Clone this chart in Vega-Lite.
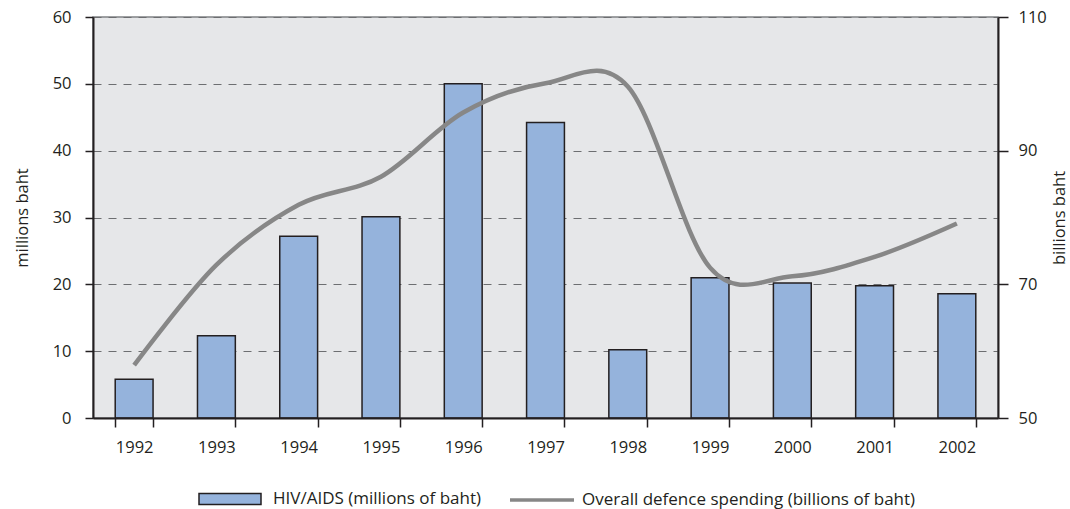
{
  "$schema": "https://vega.github.io/schema/vega-lite/v6.json",
  "width": 905,
  "height": 401,
  "autosize": {"type": "none"},
  "padding": {"left": 93, "top": 17, "right": 72, "bottom": 91},
  "background": "#ffffff",
  "config": {
    "font": "Open Sans",
    "view": {"fill": "#e6e7e9", "stroke": "#808285", "strokeWidth": 1.5},
    "axis": {
      "labelFont": "Open Sans",
      "labelFontSize": 16.5,
      "labelColor": "#231f20",
      "titleFont": "Open Sans",
      "titleFontSize": 16.5,
      "titleFontWeight": "normal",
      "titleColor": "#231f20",
      "domainColor": "#231f20",
      "domainWidth": 2,
      "tickColor": "#231f20",
      "tickWidth": 1.5
    },
    "legend": {
      "labelFont": "Open Sans",
      "labelFontSize": 17,
      "labelColor": "#231f20",
      "labelLimit": 500,
      "padding": 0
    }
  },
  "data": {
    "values": [
      {"year": "1992", "hiv": 5.8, "defence": 57.9},
      {"year": "1993", "hiv": 12.3, "defence": 72.9},
      {"year": "1994", "hiv": 27.2, "defence": 81.9},
      {"year": "1995", "hiv": 30.1, "defence": 86.1},
      {"year": "1996", "hiv": 50.0, "defence": 95.7},
      {"year": "1997", "hiv": 44.2, "defence": 100.1},
      {"year": "1998", "hiv": 10.2, "defence": 99.6},
      {"year": "1999", "hiv": 21.0, "defence": 72.5},
      {"year": "2000", "hiv": 20.2, "defence": 71.2},
      {"year": "2001", "hiv": 19.8, "defence": 74.1},
      {"year": "2002", "hiv": 18.6, "defence": 79.1}
    ]
  },
  "encoding": {
    "x": {
      "field": "year",
      "type": "ordinal",
      "scale": {"paddingInner": 0.54, "paddingOuter": 0.27},
      "axis": {
        "title": null,
        "labelAngle": 0,
        "tickBand": "extent",
        "tickSize": 9,
        "labelPadding": 12,
        "grid": false,
        "zindex": 1
      }
    }
  },
  "layer": [
    {
      "mark": {"type": "bar", "stroke": "#231f20", "strokeWidth": 1.5},
      "encoding": {
        "y": {
          "field": "hiv",
          "type": "quantitative",
          "scale": {"domain": [0, 60], "nice": false},
          "axis": {
            "title": "millions baht",
            "values": [0, 10, 20, 30, 40, 50, 60],
            "tickSize": 8,
            "labelPadding": 14,
            "titlePadding": 22,
            "grid": true,
            "gridColor": "#6d6e71",
            "gridDash": [8, 7],
            "gridWidth": 1
          }
        },
        "fill": {
          "datum": "HIV/AIDS (millions of baht)",
          "type": "nominal",
          "scale": {"domain": ["HIV/AIDS (millions of baht)"], "range": ["#95b3dc"]},
          "legend": {
            "orient": "none",
            "legendX": 105,
            "legendY": 450,
            "title": null,
            "symbolType": "M-1,-0.18H1V0.18H-1Z",
            "symbolSize": 3844,
            "symbolStrokeColor": "#231f20",
            "symbolStrokeWidth": 1.5,
            "symbolOpacity": 1,
            "labelOffset": 11
          }
        }
      }
    },
    {
      "mark": {"type": "line", "interpolate": "cardinal", "strokeWidth": 4.5, "strokeCap": "butt"},
      "encoding": {
        "y": {
          "field": "defence",
          "type": "quantitative",
          "scale": {"domain": [50, 110], "nice": false},
          "axis": {
            "title": "billions baht",
            "orient": "right",
            "values": [50, 70, 90, 110],
            "tickSize": 10,
            "labelPadding": 10,
            "titleAngle": 270,
            "titleBaseline": "top",
            "titlePadding": 5,
            "grid": false,
            "zindex": 1
          }
        },
        "stroke": {
          "datum": "Overall defence spending (billions of baht)",
          "type": "nominal",
          "scale": {"domain": ["Overall defence spending (billions of baht)"], "range": ["#878787"]},
          "legend": {
            "orient": "none",
            "legendX": 415,
            "legendY": 449,
            "title": null,
            "symbolType": "stroke",
            "symbolSize": 4096,
            "symbolStrokeWidth": 3.5,
            "labelOffset": 6
          }
        }
      }
    }
  ],
  "resolve": {"scale": {"y": "independent"}}
}
